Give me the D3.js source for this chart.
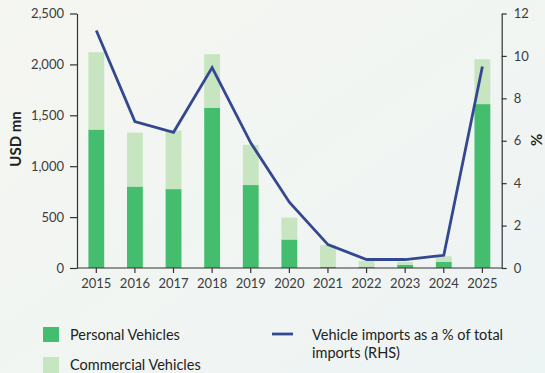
<!DOCTYPE html>
<html>
<head>
<meta charset="utf-8">
<script src="https://cdn.jsdelivr.net/npm/d3@7"></script>
<style>
  body { margin: 0; }
  svg { display: block; }
</style>
</head>
<body>
<svg id="chart"></svg>
<script>
const years = ["2015", "2016", "2017", "2018", "2019", "2020", "2021", "2022", "2023", "2024", "2025"];
const personal = [1360, 800, 775, 1575, 815, 280, 10, 10, 30, 60, 1610];
const commercial = [760, 530, 575, 525, 395, 215, 215, 60, 30, 55, 440];
const importShare = [11.2, 6.9, 6.4, 9.45, 5.9, 3.1, 1.1, 0.4, 0.4, 0.6, 9.5];
const leftTicks = [0, 500, 1000, 1500, 2000, 2500];
const rightTicks = [0, 2, 4, 6, 8, 10, 12];

const w = 545, h = 373;
const font = "'Century Gothic', 'Lato', sans-serif";
const textColor = "#3c3c3c";

const svg = d3.select("#chart").attr("width", w).attr("height", h);

// background gradient
const grad = svg.append("defs").append("linearGradient")
    .attr("id", "bg").attr("x1", "0").attr("y1", "0").attr("x2", "1").attr("y2", "1");
grad.append("stop").attr("offset", "0%").attr("stop-color", "#f5f6f1");
grad.append("stop").attr("offset", "100%").attr("stop-color", "#edf4f4");
svg.append("rect").attr("width", w).attr("height", h).attr("fill", "url(#bg)");

const plotLeft = 77, plotRight = 501.7, plotTop = 13.5, plotBottom = 268;

const x = d3.scaleBand().domain(years).range([plotLeft, plotRight]).paddingInner(0.59).paddingOuter(0.295);
const y = d3.scaleLinear().domain([0, 2500]).range([plotBottom, plotTop]);
const y2 = d3.scaleLinear().domain([0, 12]).range([plotBottom, plotTop]);

const rows = years.map((yr, i) => ({year: yr, personal: personal[i], commercial: commercial[i]}));
const stacked = d3.stack().keys(["personal", "commercial"])(rows);
const colors = {personal: "#45bd6e", commercial: "#c6e5c0"};

// bars
svg.append("g").selectAll("g")
    .data(stacked)
    .join("g")
    .attr("fill", d => colors[d.key])
    .selectAll("rect")
    .data(d => d)
    .join("rect")
    .attr("x", d => x(d.data.year))
    .attr("width", x.bandwidth())
    .attr("y", d => y(d[1]))
    .attr("height", d => y(d[0]) - y(d[1]));

// line
const line = d3.line()
    .x((d, i) => x(years[i]) + x.bandwidth() / 2)
    .y(d => y2(d));
svg.append("path")
    .datum(importShare)
    .attr("d", line)
    .attr("fill", "none")
    .attr("stroke", "#34488f")
    .attr("stroke-width", 2.8)
    .attr("stroke-linejoin", "miter");

// axes
function styleAxis(g) {
    g.selectAll("path, line").attr("stroke", "#333").attr("stroke-width", 1.2);
    g.selectAll("text").attr("fill", textColor).style("font-family", font).style("font-size", "13px");
}

svg.append("g")
    .attr("transform", `translate(${plotLeft},0)`)
    .call(d3.axisLeft(y).tickValues(leftTicks).tickFormat(d3.format(",")).tickSize(7).tickSizeOuter(0).tickPadding(6))
    .call(styleAxis);

svg.append("g")
    .attr("transform", `translate(${plotRight},0)`)
    .call(d3.axisRight(y2).tickValues(rightTicks).tickSize(5).tickSizeOuter(0).tickPadding(7))
    .call(styleAxis);

const xAxis = svg.append("g")
    .attr("transform", `translate(0,${plotBottom})`)
    .call(d3.axisBottom(x).tickSize(5).tickSizeOuter(0).tickPadding(6))
    .call(styleAxis);
xAxis.select(".domain").attr("d", `M${plotLeft},0H${plotRight}`);

// axis titles
svg.append("text")
    .attr("transform", "translate(21,139) rotate(-90)")
    .attr("text-anchor", "middle")
    .attr("fill", "#222")
    .style("font-family", font)
    .style("font-size", "15px")
    .style("font-weight", "bold")
    .text("USD mn");

svg.append("text")
    .attr("transform", "translate(531,140) rotate(90)")
    .attr("text-anchor", "middle")
    .attr("fill", "#222")
    .style("font-family", font)
    .style("font-size", "15px")
    .style("font-weight", "bold")
    .text("%");

// legend
const legend = svg.append("g").style("font-family", font).style("font-size", "14.5px").attr("fill", "#222");
legend.append("rect").attr("x", 43).attr("y", 327).attr("width", 16).attr("height", 15).attr("fill", colors.personal);
legend.append("text").attr("x", 70).attr("y", 339.5).text("Personal Vehicles");
legend.append("rect").attr("x", 43).attr("y", 357).attr("width", 16).attr("height", 16).attr("fill", colors.commercial);
legend.append("text").attr("x", 70).attr("y", 369.5).text("Commercial Vehicles");
legend.append("line").attr("x1", 272).attr("x2", 293).attr("y1", 334).attr("y2", 334)
    .attr("stroke", "#34488f").attr("stroke-width", 2.8);
legend.append("text").attr("x", 312).attr("y", 339.5).text("Vehicle imports as a % of total");
legend.append("text").attr("x", 312).attr("y", 357.5).text("imports (RHS)");
</script>
</body>
</html>
